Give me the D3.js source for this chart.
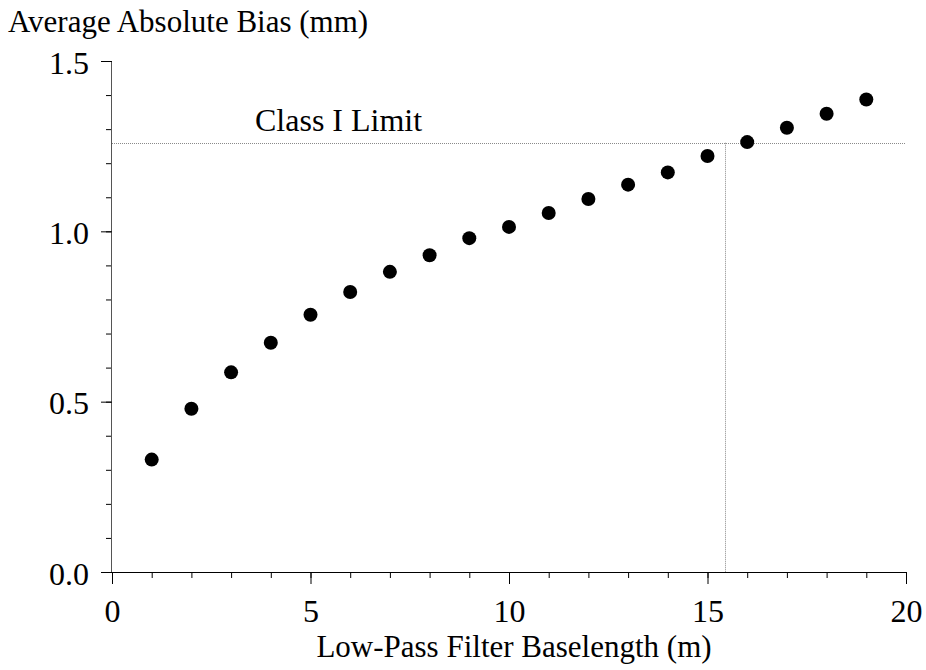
<!DOCTYPE html>
<html>
<head>
<meta charset="utf-8">
<script src="https://cdn.jsdelivr.net/npm/d3@7"></script>
<style>
  html, body { margin: 0; padding: 0; background: #fff; }
  svg text { font-family: "Liberation Serif", "Times New Roman", serif; fill: #000; }
</style>
</head>
<body>
<svg id="chart" width="926" height="670"></svg>
<script>
// Filter baselength (m) and average absolute bias (mm)
const baselength = [1, 2, 3, 4, 5, 6, 7, 8, 9, 10, 11, 12, 13, 14, 15, 16, 17, 18, 19];
const bias = [0.330, 0.479, 0.586, 0.673, 0.755, 0.822, 0.881, 0.930, 0.980, 1.013, 1.054, 1.095, 1.137, 1.173, 1.221, 1.262, 1.304, 1.345, 1.387];

const xMajorTicks = [0, 5, 10, 15, 20];
const yMajorTicks = [0.0, 0.5, 1.0, 1.5];
const xMinorTicks = d3.range(0, 21, 1);
const yMinorTicks = d3.range(0, 16).map(i => i / 10);

const classLimit = 1.26;      // Class I limit (mm)
const crossover = 15.43;      // baselength where the limit is reached (m)

const svg = d3.select("#chart");
const x = d3.scaleLinear().domain([0, 20]).range([112, 906]);
const y = d3.scaleLinear().domain([0, 1.5]).range([572, 61]);

// reference lines
const refLines = svg.append("g")
  .attr("stroke", "#8a8a8a").attr("stroke-width", 1).attr("stroke-dasharray", "1,1").attr("fill", "none");
refLines.append("line")
  .attr("x1", x(0)).attr("x2", x(20))
  .attr("y1", Math.round(y(classLimit)) + 0.5).attr("y2", Math.round(y(classLimit)) + 0.5);
refLines.append("line")
  .attr("x1", Math.round(x(crossover)) + 0.5).attr("x2", Math.round(x(crossover)) + 0.5)
  .attr("y1", y(classLimit)).attr("y2", y(0));

svg.append("text")
  .attr("x", 255).attr("y", 131)
  .attr("font-size", 32)
  .text("Class I Limit");

// axes
const xMinor = svg.append("g").attr("transform", `translate(0,${y(0)})`)
  .call(d3.axisBottom(x).tickValues(xMinorTicks).tickSize(6).tickFormat(""));
const xMajor = svg.append("g").attr("transform", `translate(0,${y(0)})`)
  .call(d3.axisBottom(x).tickValues(xMajorTicks).tickSize(12).tickPadding(15).tickFormat(d3.format("d")));
const yMinor = svg.append("g").attr("transform", `translate(${x(0)},0)`)
  .call(d3.axisLeft(y).tickValues(yMinorTicks).tickSize(6).tickFormat(""));
const yMajor = svg.append("g").attr("transform", `translate(${x(0)},0)`)
  .call(d3.axisLeft(y).tickValues(yMajorTicks).tickSize(11).tickPadding(12).tickFormat(d3.format(".1f")));

[xMinor, yMinor].forEach(g => g.select(".domain").remove());
xMajor.select(".domain").attr("d", `M${x(0)},0.5H${x(20)}`).attr("stroke", "#000");
yMajor.select(".domain").attr("d", `M-0.5,${y(0)}V${y(1.5)}`).attr("stroke", "#555");
svg.selectAll(".tick line").attr("stroke", "#000");
svg.selectAll(".tick text").attr("font-size", 32).style("font-family", '"Liberation Serif", serif');
xMajor.selectAll(".tick text").attr("dy", "0.72em");
yMajor.selectAll(".tick text").attr("dy", "0.38em");

// axis titles
svg.append("text")
  .attr("x", 8).attr("y", 32)
  .attr("font-size", 31)
  .text("Average Absolute Bias (mm)");
svg.append("text")
  .attr("x", 514).attr("y", 657)
  .attr("text-anchor", "middle")
  .attr("font-size", 31)
  .text("Low-Pass Filter Baselength (m)");

// data points
svg.append("g").selectAll("circle")
  .data(baselength.map((b, i) => ({ b, v: bias[i] })))
  .join("circle")
  .attr("cx", d => x(d.b))
  .attr("cy", d => y(d.v))
  .attr("r", 7)
  .attr("fill", "#000");
</script>
</body>
</html>
